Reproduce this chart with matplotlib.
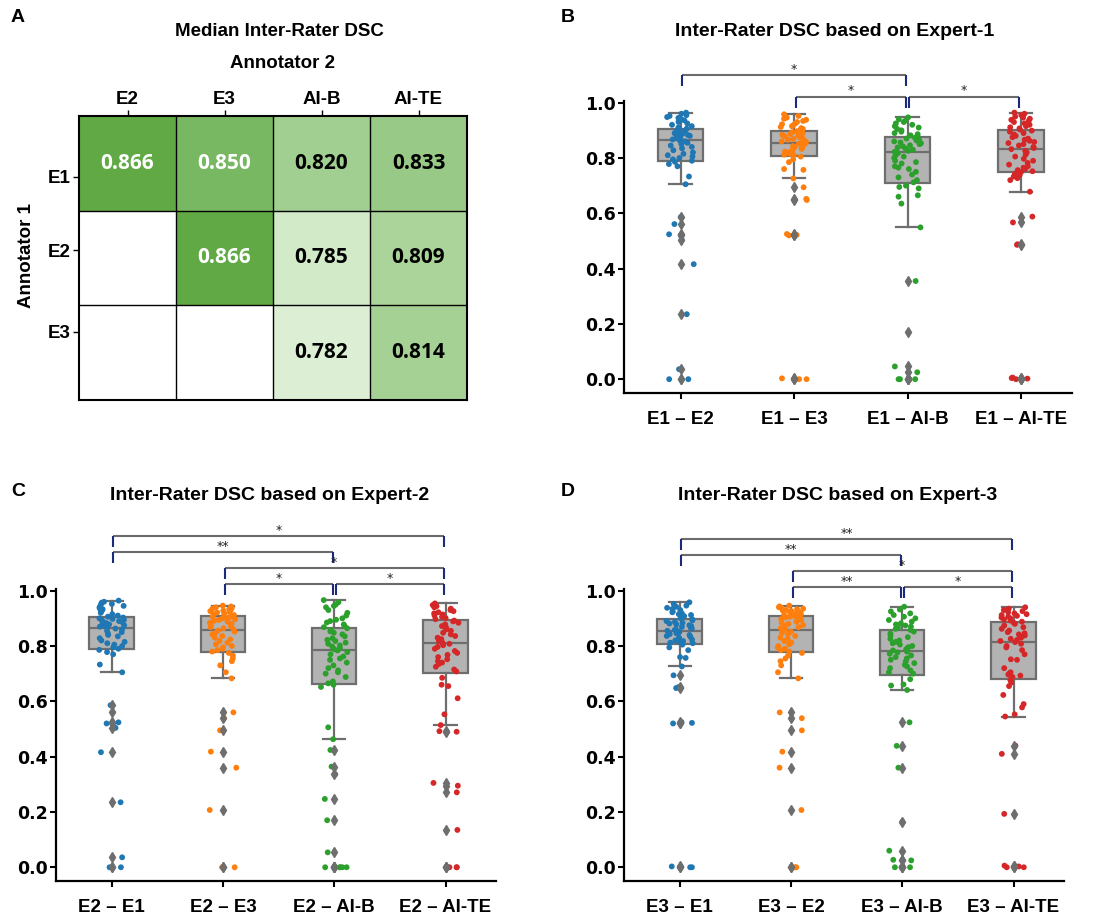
import numpy as np
import pandas as pd
import seaborn as sns
import matplotlib
matplotlib.use('Agg')
from matplotlib import pyplot as plt
from matplotlib.colors import LinearSegmentedColormap

# ---- panel A: median inter-rater DSC (rows = annotator 1, cols = annotator 2)
rowNames = ['E1', 'E2', 'E3']
colNames = ['E2', 'E3', 'AI-B', 'AI-TE']
medianDSC = [[0.866, 0.850, 0.820, 0.833],
             [np.nan, 0.866, 0.785, 0.809],
             [np.nan, np.nan, 0.782, 0.814]]

# ---- per-case DSC values (60 cases)
dscE1E2 = [0.0, 0.0, 0.036, 0.235, 0.416, 0.504, 0.52, 0.524, 0.561, 0.586,
           0.705, 0.733, 0.770, 0.778, 0.786, 0.790, 0.795, 0.800, 0.805, 0.810,
           0.815, 0.820, 0.828, 0.835, 0.840, 0.845, 0.850, 0.855, 0.860, 0.863,
           0.867, 0.870, 0.872, 0.875, 0.878, 0.880, 0.883, 0.886, 0.888, 0.890,
           0.893, 0.895, 0.898, 0.900, 0.903, 0.906, 0.910, 0.915, 0.920, 0.925,
           0.930, 0.933, 0.936, 0.940, 0.945, 0.948, 0.952, 0.955, 0.960, 0.964]
dscE1E3 = [0.0, 0.0, 0.003, 0.520, 0.522, 0.525, 0.648, 0.652, 0.694, 0.726,
           0.757, 0.760, 0.785, 0.795, 0.805, 0.810, 0.812, 0.815, 0.818, 0.820,
           0.823, 0.826, 0.830, 0.833, 0.836, 0.840, 0.843, 0.846, 0.850, 0.852,
           0.855, 0.858, 0.860, 0.863, 0.866, 0.869, 0.872, 0.875, 0.878, 0.881,
           0.884, 0.887, 0.890, 0.893, 0.897, 0.900, 0.905, 0.908, 0.912, 0.915,
           0.918, 0.922, 0.925, 0.930, 0.934, 0.938, 0.942, 0.946, 0.952, 0.958]
dscE1AIB = [0.0, 0.0, 0.0, 0.0, 0.025, 0.046, 0.170, 0.355, 0.549, 0.635,
            0.660, 0.665, 0.690, 0.695, 0.700, 0.712, 0.720, 0.730, 0.740, 0.750,
            0.760, 0.765, 0.770, 0.780, 0.785, 0.790, 0.800, 0.805, 0.810, 0.818,
            0.822, 0.826, 0.830, 0.834, 0.838, 0.842, 0.846, 0.850, 0.853, 0.856,
            0.860, 0.863, 0.866, 0.870, 0.873, 0.878, 0.882, 0.886, 0.890, 0.895,
            0.900, 0.905, 0.910, 0.915, 0.920, 0.925, 0.930, 0.935, 0.940, 0.947]
dscE1AITE = [0.0, 0.0, 0.002, 0.004, 0.006, 0.486, 0.488, 0.567, 0.588, 0.678,
             0.720, 0.727, 0.733, 0.738, 0.743, 0.749, 0.752, 0.756, 0.760, 0.765,
             0.770, 0.776, 0.782, 0.790, 0.797, 0.805, 0.812, 0.820, 0.826, 0.832,
             0.836, 0.840, 0.845, 0.850, 0.854, 0.858, 0.862, 0.866, 0.870, 0.875,
             0.880, 0.885, 0.890, 0.895, 0.899, 0.903, 0.907, 0.911, 0.915, 0.920,
             0.925, 0.930, 0.934, 0.938, 0.942, 0.946, 0.950, 0.955, 0.960, 0.964]
dscE2E3 = [0.0, 0.0, 0.207, 0.360, 0.418, 0.495, 0.539, 0.560, 0.683, 0.705,
           0.730, 0.745, 0.755, 0.765, 0.775, 0.780, 0.785, 0.790, 0.795, 0.800,
           0.806, 0.812, 0.818, 0.824, 0.830, 0.836, 0.842, 0.847, 0.852, 0.856,
           0.860, 0.864, 0.868, 0.872, 0.876, 0.880, 0.884, 0.888, 0.891, 0.894,
           0.897, 0.900, 0.902, 0.904, 0.906, 0.909, 0.912, 0.915, 0.918, 0.921,
           0.924, 0.926, 0.928, 0.930, 0.933, 0.935, 0.938, 0.940, 0.943, 0.946]
dscE2AIB = [0.0, 0.0, 0.0, 0.0, 0.0, 0.054, 0.170, 0.247, 0.336, 0.364,
            0.424, 0.463, 0.506, 0.652, 0.660, 0.665, 0.672, 0.688, 0.700, 0.705,
            0.712, 0.720, 0.730, 0.740, 0.750, 0.755, 0.762, 0.770, 0.778, 0.784,
            0.788, 0.792, 0.798, 0.802, 0.808, 0.812, 0.818, 0.822, 0.828, 0.835,
            0.842, 0.848, 0.853, 0.858, 0.864, 0.868, 0.872, 0.878, 0.885, 0.890,
            0.895, 0.900, 0.910, 0.920, 0.930, 0.940, 0.945, 0.950, 0.958, 0.966]
dscE2AITE = [0.0, 0.0, 0.0, 0.135, 0.271, 0.295, 0.305, 0.490, 0.492, 0.514,
             0.553, 0.611, 0.655, 0.660, 0.685, 0.708, 0.715, 0.725, 0.735, 0.740,
             0.745, 0.752, 0.760, 0.768, 0.775, 0.782, 0.790, 0.797, 0.803, 0.808,
             0.812, 0.818, 0.825, 0.830, 0.836, 0.842, 0.848, 0.855, 0.860, 0.866,
             0.872, 0.878, 0.884, 0.889, 0.892, 0.897, 0.901, 0.905, 0.910, 0.914,
             0.918, 0.922, 0.926, 0.930, 0.935, 0.940, 0.944, 0.948, 0.951, 0.954]
dscE3AIB = [0.0, 0.0, 0.0, 0.0, 0.025, 0.027, 0.060, 0.165, 0.360, 0.439,
            0.524, 0.641, 0.657, 0.661, 0.680, 0.700, 0.705, 0.712, 0.720, 0.726,
            0.732, 0.738, 0.744, 0.750, 0.755, 0.760, 0.766, 0.772, 0.777, 0.780,
            0.784, 0.788, 0.792, 0.796, 0.800, 0.805, 0.810, 0.815, 0.820, 0.826,
            0.832, 0.838, 0.845, 0.852, 0.858, 0.862, 0.866, 0.870, 0.874, 0.878,
            0.882, 0.888, 0.894, 0.900, 0.906, 0.912, 0.918, 0.925, 0.932, 0.942]
dscE3AITE = [0.0, 0.0, 0.003, 0.006, 0.193, 0.410, 0.440, 0.545, 0.553, 0.578,
             0.590, 0.623, 0.655, 0.668, 0.676, 0.683, 0.688, 0.693, 0.697, 0.700,
             0.705, 0.720, 0.750, 0.752, 0.770, 0.785, 0.795, 0.800, 0.808, 0.814,
             0.818, 0.822, 0.826, 0.830, 0.834, 0.838, 0.842, 0.846, 0.850, 0.856,
             0.862, 0.868, 0.874, 0.880, 0.884, 0.888, 0.892, 0.896, 0.900, 0.903,
             0.906, 0.909, 0.912, 0.915, 0.918, 0.922, 0.926, 0.930, 0.935, 0.940]

labelsB = ['E1 \u2013 E2', 'E1 \u2013 E3', 'E1 \u2013 AI-B', 'E1 \u2013 AI-TE']
labelsC = ['E2 \u2013 E1', 'E2 \u2013 E3', 'E2 \u2013 AI-B', 'E2 \u2013 AI-TE']
labelsD = ['E3 \u2013 E1', 'E3 \u2013 E2', 'E3 \u2013 AI-B', 'E3 \u2013 AI-TE']
groupsB = [dscE1E2, dscE1E3, dscE1AIB, dscE1AITE]
groupsC = [dscE1E2, dscE2E3, dscE2AIB, dscE2AITE]
groupsD = [dscE1E3, dscE2E3, dscE3AIB, dscE3AITE]

# significance brackets: (from, to, stars, row)
sigB = [(1, 2, '*', 0), (2, 3, '*', 0), (0, 2, '*', 1)]
sigC = [(1, 2, '*', 0), (2, 3, '*', 0), (1, 3, '*', 1), (0, 2, '**', 2), (0, 3, '*', 3)]
sigD = [(1, 2, '**', 0), (2, 3, '*', 0), (1, 3, '*', 1), (0, 2, '**', 2), (0, 3, '**', 3)]

pointColors = ['#1f77b4', '#ff7f0e', '#2ca02c', '#d62728']
boxEdge = '#6e6e6e'
W, H = 1100, 917
ARIAL = 'Liberation Sans'

np.random.seed(7)
fig = plt.figure(figsize=(W / 100, H / 100), dpi=100)


def px(x, y):
    return x / W, 1 - y / H


def box_panel(ax, groups, labels, sig, base, step):
    bp = ax.boxplot(groups, positions=range(4), widths=0.4, whis=1.0, patch_artist=True,
                    manage_ticks=False,
                    boxprops=dict(facecolor='#b3b3b3', edgecolor=boxEdge, linewidth=1.6),
                    whiskerprops=dict(color=boxEdge, linewidth=1.6),
                    capprops=dict(color=boxEdge, linewidth=1.6),
                    medianprops=dict(color=boxEdge, linewidth=1.6),
                    flierprops=dict(marker='d', markerfacecolor=boxEdge, markeredgecolor=boxEdge,
                                    markersize=5.5))
    for b in bp['boxes']:
        b.set_zorder(1)
    for f in bp['fliers']:
        f.set_zorder(4)
    df = pd.DataFrame({'pair': np.repeat(labels, [len(g) for g in groups]),
                       'dsc': np.concatenate(groups)})
    sns.stripplot(data=df, x='pair', y='dsc', hue='pair', order=labels, hue_order=labels,
                  palette=pointColors, jitter=0.12, size=4.2, legend=False, ax=ax, zorder=3)
    ax.set_xlabel('')
    ax.set_ylabel('')
    ax.set_xlim(-0.5, 3.45)
    ax.set_ylim(-0.05, 1.005)
    ax.set_yticks([0, 0.2, 0.4, 0.6, 0.8, 1.0])
    ax.set_yticklabels(['0.0', '0.2', '0.4', '0.6', '0.8', '1.0'],
                       fontfamily='DejaVu Sans', fontweight='bold', fontsize=12.5)
    ax.set_xticks(range(4))
    ax.set_xticklabels(labels, fontfamily=ARIAL, fontweight='bold', fontsize=13.5)
    for s in ['top', 'right']:
        ax.spines[s].set_visible(False)
    for s in ['left', 'bottom']:
        ax.spines[s].set_linewidth(1.6)
    ax.tick_params(width=1.5, length=4)
    ax.tick_params(axis='x', pad=9)
    ax.tick_params(axis='y', pad=2)

    for a, b, txt, row in sig:
        y = base + step * row
        x1, x2 = a + 0.015, b - 0.015
        ax.plot([x1, x2], [y, y], color='#6b6b6b', lw=1.5, clip_on=False, solid_capstyle='butt')
        for xx in (x1, x2):
            ax.plot([xx, xx], [y, y - 0.04], color='#1c2a7a', lw=1.5, clip_on=False,
                    solid_capstyle='butt')
        ax.text((x1 + x2) / 2, y + 0.008, txt, ha='center', va='baseline', fontsize=9,
                color='#222222')


# ---- panel A
axA = fig.add_axes([79 / W, 1 - 400 / H, 388 / W, 284 / H])
cmap = LinearSegmentedColormap.from_list(
    'dsc', [(0.0, '#e2f1db'), (0.056, '#d2eac8'), (0.333, '#a8d398'),
            (0.589, '#98c987'), (0.778, '#78b862'), (1.0, '#5ca63e')])
M = np.array(medianDSC, dtype=float)
axA.pcolormesh(np.ma.masked_invalid(M), cmap=cmap, vmin=0.78, vmax=0.87)
axA.set_xlim(0, 4)
axA.set_ylim(3, 0)
for i in range(1, 4):
    axA.axvline(i, color='black', lw=1)
for j in range(1, 3):
    axA.axhline(j, color='black', lw=1)
for s in axA.spines.values():
    s.set_linewidth(1.5)
for r in range(3):
    for c in range(4):
        v = M[r, c]
        if np.isnan(v):
            continue
        axA.text(c + 0.5, r + 0.5, '%.3f' % v, ha='center', va='center',
                 fontfamily='Open Sans', fontweight='bold', fontsize=15,
                 color='white' if v > 0.84 else 'black')
axA.xaxis.tick_top()
axA.set_xticks(np.arange(4) + 0.5)
axA.set_xticklabels(colNames, fontfamily=ARIAL, fontweight='bold', fontsize=13.5)
axA.set_yticks([0.64, 1.42, 2.28])
axA.set_yticklabels(rowNames, fontfamily=ARIAL, fontweight='bold', fontsize=13.5)
axA.tick_params(width=1, length=4)
axA.tick_params(axis='x', pad=2)
axA.tick_params(axis='y', pad=2)

# ---- panels B, C, D
axB = fig.add_axes([624 / W, 1 - 393 / H, 448 / W, 291.7 / H])
box_panel(axB, groupsB, labelsB, sigB, 1.022, 0.078)
axC = fig.add_axes([56 / W, 1 - 881.1 / H, 439.6 / W, 291.8 / H])
box_panel(axC, groupsC, labelsC, sigC, 1.024, 0.058)
axD = fig.add_axes([624 / W, 1 - 881.1 / H, 439.6 / W, 291.8 / H])
box_panel(axD, groupsD, labelsD, sigD, 1.012, 0.058)

# ---- titles and panel letters
tkw = dict(fontfamily=ARIAL, fontweight='bold', ha='center', va='center')
fig.text(*px(279, 32), 'Median Inter-Rater DSC', fontsize=13.5, **tkw)
fig.text(*px(282, 63), 'Annotator 2', fontsize=13.5, **tkw)
fig.text(*px(27, 255), 'Annotator 1', fontsize=13.5, rotation=90, **tkw)
fig.text(*px(835, 32), 'Inter-Rater DSC based on Expert-1', fontsize=14, **tkw)
fig.text(*px(270, 495), 'Inter-Rater DSC based on Expert-2', fontsize=14, **tkw)
fig.text(*px(838, 495), 'Inter-Rater DSC based on Expert-3', fontsize=14, **tkw)
for letter, x, y in [('A', 18, 18), ('B', 568, 18), ('C', 18, 492), ('D', 568, 492)]:
    fig.text(*px(x, y), letter, fontsize=14, **tkw)

fig.savefig('out.png', dpi=100)
